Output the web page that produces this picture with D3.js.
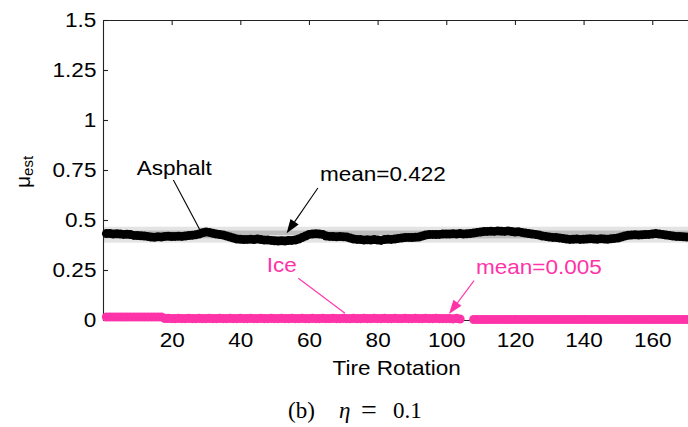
<!DOCTYPE html>
<html><head><meta charset="utf-8">
<script src="https://cdn.jsdelivr.net/npm/d3@7"></script>
<style>body{margin:0;background:#fff} svg{display:block}</style>
</head><body><svg id="c" width="688" height="427"></svg>
<script>
// ---- data (tire rotation 1..172) ----
const asphalt = [
0.432,0.433,0.430,0.431,0.430,0.428,0.429,0.427,
0.423,0.422,0.421,0.420,0.418,
0.415,0.414,0.416,0.415,
0.418,0.419,0.417,0.418,0.419,0.418,0.420,0.422,
0.424,0.426,0.430,
0.436,0.440,0.438,0.434,
0.430,0.427,0.425,0.420,0.415,0.410,
0.405,0.404,0.402,0.403,0.404,0.402,0.405,
0.402,0.400,0.400,0.398,0.396,0.395,0.396,0.395,0.397,0.398,0.400,
0.405,0.412,0.420,0.428,0.430,0.431,0.430,0.428,
0.420,0.418,0.417,0.416,0.417,0.416,
0.415,0.410,0.405,0.403,0.402,0.400,0.401,0.400,
0.402,0.400,0.398,0.402,0.404,0.403,0.405,0.408,
0.410,0.412,0.413,0.412,0.414,0.415,
0.420,0.425,0.427,0.428,0.427,0.428,0.430,0.430,
0.430,0.431,0.430,0.432,0.430,0.431,0.432,0.435,0.438,0.440,
0.442,0.443,0.444,0.443,0.445,0.444,0.443,0.445,0.442,0.440,0.441,0.438,0.435,0.432,
0.430,0.428,0.425,0.420,0.418,0.415,0.413,0.412,
0.410,0.408,0.405,0.403,0.404,0.405,0.403,0.404,
0.405,0.406,0.405,0.404,0.406,0.405,0.404,0.406,0.408,0.410,
0.415,0.420,0.424,0.425,0.426,0.425,0.426,0.427,
0.428,0.430,0.432,0.430,0.428,0.425,0.423,
0.420,0.418,0.417,0.416,0.415,0.415,0.415
];
const ice = [
// rotations 1-17
0.015,0.015,0.015,0.015,0.015,0.015,0.015,0.015,0.015,0.015,0.015,0.015,0.015,0.015,0.015,0.015,0.015,
// rotations 18-100
0.008,0.008,0.007,0.007,0.008,0.007,0.007,0.008,0.007,0.007,
0.008,0.007,0.007,0.008,0.007,0.007,0.008,0.007,0.007,0.008,
0.007,0.007,0.008,0.007,0.007,0.008,0.007,0.007,0.008,0.007,
0.007,0.008,0.007,0.007,0.008,0.007,0.007,0.008,0.007,0.007,
0.008,0.007,0.007,0.008,0.007,0.007,0.008,0.007,0.007,0.008,
0.007,0.007,0.008,0.007,0.007,0.008,0.007,0.007,0.008,0.007,
0.007,0.008,0.007,0.007,0.008,0.007,0.007,0.008,0.007,0.007,
0.008,0.007,0.007,0.008,0.007,0.007,0.008,0.007,0.007,0.008,
0.007,0.007,0.007,
// rotations 101-104
0.007,0.006,0.008,0.005,
// rotations 105-107 (no estimate)
null,null,null,
// rotations 108-172
0.0025,0.0025,0.0025,0.0025,0.0025,0.0025,0.0025,0.0025,0.0025,0.0025,0.0025,0.0025,0.0025,
0.0025,0.0025,0.0025,0.0025,0.0025,0.0025,0.0025,0.0025,0.0025,0.0025,0.0025,0.0025,0.0025,
0.0025,0.0025,0.0025,0.0025,0.0025,0.0025,0.0025,0.0025,0.0025,0.0025,0.0025,0.0025,0.0025,
0.0025,0.0025,0.0025,0.0025,0.0025,0.0025,0.0025,0.0025,0.0025,0.0025,0.0025,0.0025,0.0025,
0.0025,0.0025,0.0025,0.0025,0.0025,0.0025,0.0025,0.0025,0.0025,0.0025,0.0025,0.0025,0.0025
];
const asphaltMean = 0.422;
const iceMean = 0.005;
const asphaltBandOuter = [0.3865, 0.4665];
const asphaltBandInner = [0.408, 0.4475];
const xTicks = [20, 40, 60, 80, 100, 120, 140, 160];
const yTicks = [0, 0.25, 0.5, 0.75, 1, 1.25, 1.5];
const yTickLabels = ["0", "0.25", "0.5", "0.75", "1", "1.25", "1.5"];
const xDomain = [0, 171];
const yDomain = [0, 1.5];

// ---- chart ----
const svg = d3.select("#c");
const FONT = "'Liberation Sans', Arial, Helvetica, sans-serif";
const PINK = "#ff33a8";
const x = d3.scaleLinear().domain(xDomain).range([103, 690]);
const y = d3.scaleLinear().domain(yDomain).range([320, 20]);

// bands
svg.append("rect").attr("x", x(xDomain[0])).attr("width", x(xDomain[1]) - x(xDomain[0]))
  .attr("y", y(asphaltBandOuter[1])).attr("height", y(asphaltBandOuter[0]) - y(asphaltBandOuter[1]))
  .attr("fill", "#e4e4e4");
svg.append("rect").attr("x", x(xDomain[0])).attr("width", x(xDomain[1]) - x(xDomain[0]))
  .attr("y", y(asphaltBandInner[1])).attr("height", y(asphaltBandInner[0]) - y(asphaltBandInner[1]))
  .attr("fill", "#bdbdbd");
svg.append("line").attr("x1", x(xDomain[0])).attr("x2", x(xDomain[1]))
  .attr("y1", y(asphaltMean)).attr("y2", y(asphaltMean)).attr("stroke", "#e6e6e6").attr("stroke-width", 1);

// axes
function styleAxis(g) {
  g.selectAll(".domain").attr("stroke", "#222").attr("stroke-width", 1.1);
  g.selectAll(".tick line").attr("stroke", "#222").attr("stroke-width", 1.1);
  g.selectAll("text").attr("font-family", FONT).attr("font-size", "20.5px").attr("fill", "#000")
    .attr("transform", "scale(1.1,1)");
}
svg.append("g").attr("transform", "translate(0,20)")
  .call(d3.axisTop(x).tickValues(xTicks).tickSizeInner(-5).tickSizeOuter(0).tickFormat(""))
  .call(styleAxis);
svg.append("g").attr("transform", "translate(0,320)")
  .call(d3.axisBottom(x).tickValues(xTicks).tickSizeInner(-5).tickSizeOuter(0).tickPadding(12))
  .call(styleAxis);
svg.append("g").attr("transform", "translate(103,0)")
  .call(d3.axisLeft(y).tickValues(yTicks).tickFormat((d, i) => yTickLabels[i]).tickSizeInner(-5).tickSizeOuter(0).tickPadding(6))
  .call(styleAxis);

// series
const aPts = asphalt.map((v, i) => ({r: i + 1, v}));
const iPts = ice.map((v, i) => ({r: i + 1, v}));
const line = d3.line().defined(d => d.v != null).x(d => x(d.r)).y(d => y(d.v));

svg.append("path").datum(aPts).attr("d", line).attr("fill", "none").attr("stroke", "#000").attr("stroke-width", 2);
svg.append("g").selectAll("circle").data(aPts).join("circle")
  .attr("cx", d => x(d.r)).attr("cy", d => y(d.v)).attr("r", 4.5).attr("fill", "#000");

svg.append("path").datum(iPts).attr("d", line).attr("fill", "none").attr("stroke", PINK).attr("stroke-width", 2);
svg.append("g").selectAll("circle").data(iPts.filter(d => d.v != null)).join("circle")
  .attr("cx", d => x(d.r)).attr("cy", d => y(d.v)).attr("r", 4.6).attr("fill", PINK);

// annotations (in data coordinates)
function label(txt, dx, dy, color) {
  svg.append("text").attr("transform", `translate(${x(dx)},${y(dy)}) scale(1.1,1)`)
    .attr("font-family", FONT).attr("font-size", "20.5px").attr("fill", color).text(txt);
}
function pointer(x0, y0, x1, y1, color, head) {
  const p0 = [x(x0), y(y0)], p1 = [x(x1), y(y1)];
  const dxp = p1[0] - p0[0], dyp = p1[1] - p0[1], L = Math.hypot(dxp, dyp);
  const ux = dxp / L, uy = dyp / L;
  const hl = 14, hw = 5;
  const end = head ? [p1[0] - ux * hl * 0.8, p1[1] - uy * hl * 0.8] : p1;
  svg.append("line").attr("x1", p0[0]).attr("y1", p0[1]).attr("x2", end[0]).attr("y2", end[1])
    .attr("stroke", color).attr("stroke-width", 1.1);
  if (head) {
    const b = [p1[0] - ux * hl, p1[1] - uy * hl];
    const pts = [p1, [b[0] - uy * hw, b[1] + ux * hw], [b[0] + uy * hw, b[1] - ux * hw]];
    svg.append("polygon").attr("points", pts.map(p => p.join(",")).join(" ")).attr("fill", color);
  }
}
label("Asphalt", 9.8, 0.725, "#000");
pointer(20.5, 0.70, 28.25, 0.45, "#000", false);
label("mean=" + asphaltMean.toFixed(3), 63.2, 0.6965, "#000");
pointer(62.6, 0.66, 53.5, 0.4335, "#000", true);
label("Ice", 47.7, 0.2415, PINK);
pointer(56.9, 0.2085, 70.5, 0.0335, PINK, false);
label("mean=" + iceMean.toFixed(3), 108.65, 0.23, PINK);
pointer(108.1, 0.1965, 100.8, 0.03, PINK, true);

// axis titles
const yl = svg.append("text").attr("transform", "translate(30,188) rotate(-90)")
  .attr("font-family", FONT).attr("font-size", "21px").attr("fill", "#000");
yl.append("tspan").text("μ");
yl.append("tspan").attr("font-size", "15px").attr("dy", 3).text("est");

svg.append("text").attr("transform", "translate(396.7,375) scale(1.1,1)")
  .attr("text-anchor", "middle").attr("font-family", FONT).attr("font-size", "20.5px").attr("fill", "#000")
  .text("Tire Rotation");

// caption
const cap = svg.append("text").attr("y", 418).attr("font-family", "'Liberation Serif', 'DejaVu Serif', serif")
  .attr("font-size", "23px").attr("fill", "#000");
cap.append("tspan").attr("x", 288).text("(b)");
cap.append("tspan").attr("x", 339).attr("font-style", "italic").text("η");
cap.append("tspan").attr("x", 361).attr("font-size", "28px").attr("dy", 1).text("=");
cap.append("tspan").attr("x", 393).attr("dy", -1).text("0.1");
</script></body></html>
